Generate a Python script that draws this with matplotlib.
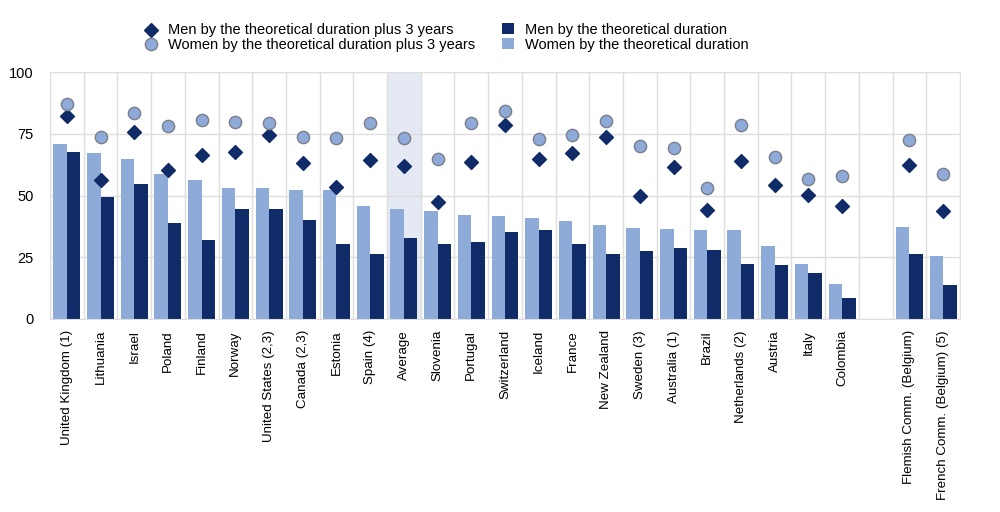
import matplotlib.pyplot as plt
import numpy as np

plt.rcParams.update({'font.size': 10.5, 'font.family': ['Liberation Sans', 'DejaVu Sans']})

countries = ['United Kingdom (1)', 'Lithuania', 'Israel', 'Poland', 'Finland', 'Norway',
             'United States (2,3)', 'Canada (2,3)', 'Estonia', 'Spain (4)', 'Average',
             'Slovenia', 'Portugal', 'Switzerland', 'Iceland', 'France', 'New Zealand',
             'Sweden (3)', 'Australia (1)', 'Brazil', 'Netherlands (2)', 'Austria', 'Italy',
             'Colombia', '', 'Flemish Comm. (Belgium)', 'French Comm. (Belgium) (5)']

women_theo = [70.9, 67.1, 64.7, 58.7, 56.3, 53.2, 52.9, 52.2, 52.2, 45.7, 44.4,
              43.7, 42.2, 41.8, 41.0, 39.7, 37.9, 37.0, 36.3, 36.0, 36.0, 29.6, 22.1,
              14.3, np.nan, 37.4, 25.5]
men_theo = [67.5, 49.3, 54.8, 38.9, 32.0, 44.4, 44.4, 40.0, 30.5, 26.4, 32.9,
            30.2, 31.3, 35.3, 36.0, 30.5, 26.4, 27.7, 28.9, 27.9, 22.1, 21.7, 18.8,
            8.4, np.nan, 26.2, 13.6]
women_plus3 = [87.3, 73.7, 83.4, 78.0, 80.8, 80.0, 79.5, 73.7, 73.4, 79.5, 73.4,
               64.8, 79.6, 84.2, 73.1, 74.5, 80.4, 70.0, 69.4, 53.2, 78.5, 65.5, 56.7,
               58.0, np.nan, 72.7, 58.8]
men_plus3 = [82.2, 56.3, 75.8, 60.3, 66.4, 67.7, 74.4, 63.4, 53.4, 64.4, 61.8,
             47.2, 63.8, 78.4, 65.0, 67.2, 73.7, 49.7, 61.7, 44.3, 64.2, 54.4, 50.3,
             45.9, np.nan, 62.5, 43.6]

light = '#8eaad9'
dark = '#0f2b68'
grid_col = '#dedede'

x = np.arange(len(countries))
fig = plt.figure(figsize=(10, 5.12), dpi=100)
ax = fig.add_axes([0.05, 0.377, 0.91, 0.482])

avg = countries.index('Average')
ax.axvspan(avg - 0.5, avg + 0.5, color='#e4e9f3', zorder=0)

ax.bar(x - 0.2, women_theo, width=0.4, color=light, zorder=2,
       label='Women by the theoretical duration')
ax.bar(x + 0.2, men_theo, width=0.4, color=dark, zorder=2,
       label='Men by the theoretical duration')
ax.scatter(x, men_plus3, marker='D', s=50, color=dark, zorder=3,
           label='Men by the theoretical duration plus 3 years')
ax.scatter(x, women_plus3, marker='o', s=78, color=light, edgecolor='#7a7f8a',
           linewidth=1, zorder=3, label='Women by the theoretical duration plus 3 years')

ax.set_xlim(-0.5, len(countries) - 0.5)
ax.set_ylim(0, 100)
ax.set_yticks([0, 25, 50, 75, 100])
ax.set_xticks(x)
ax.set_xticklabels(countries, rotation=90, fontsize=9.6)
ax.set_xticks(np.arange(len(countries) + 1) - 0.5, minor=True)
ax.tick_params(which='both', length=0)
ax.tick_params(axis='y', pad=12)
ax.tick_params(axis='x', pad=8)
ax.grid(axis='y', color=grid_col, linewidth=1, zorder=1)
ax.grid(axis='x', which='minor', color=grid_col, linewidth=1, zorder=1)
ax.set_axisbelow(True)
for s in ax.spines.values():
    s.set_color(grid_col)

h, l = ax.get_legend_handles_labels()
order = [l.index('Men by the theoretical duration plus 3 years'),
         l.index('Women by the theoretical duration plus 3 years'),
         l.index('Men by the theoretical duration'),
         l.index('Women by the theoretical duration')]
fig.legend([h[i] for i in order], [l[i] for i in order], ncol=2, frameon=False,
           loc='upper left', bbox_to_anchor=(0.1375, 0.9696), borderpad=0,
           columnspacing=1.85, handletextpad=0.79, labelspacing=0.05,
           handlelength=0.8, handleheight=0.8, fontsize=10.5)

plt.savefig('out.png')
